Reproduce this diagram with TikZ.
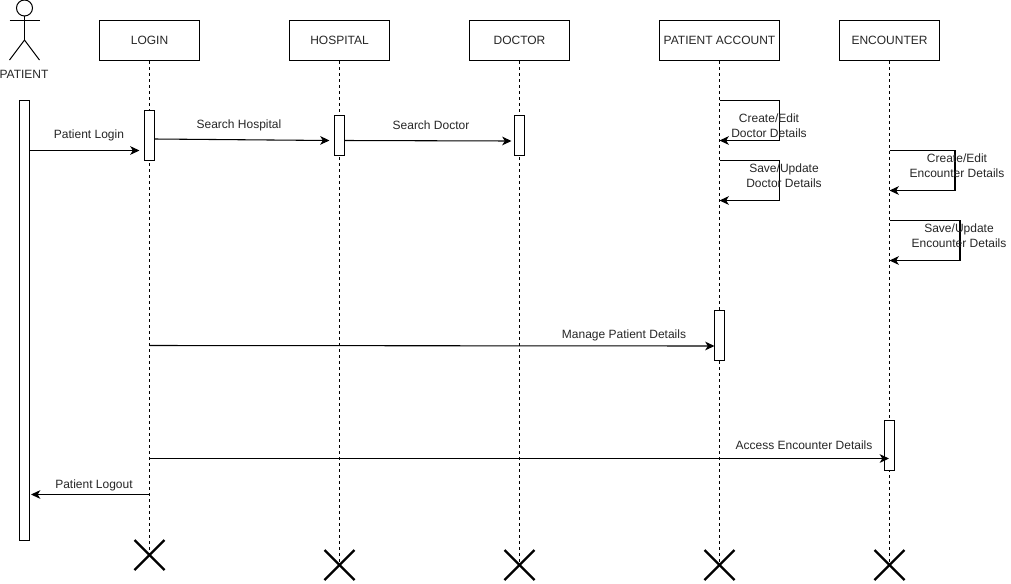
\documentclass[tikz,border=0pt]{standalone}
\usepackage{fontspec}
\setmainfont{Liberation Sans}
\usetikzlibrary{arrows.meta}
\tikzset{
  px/.style={x=0.75pt,y=-0.75pt},
  headbox/.style={draw=black,fill=white,line width=0.75pt,minimum height=30pt,inner sep=0pt,text=black!85},
  bar/.style={draw=black,fill=white,line width=0.75pt,minimum width=7.5pt,inner sep=0pt},
  life/.style={draw=black,line width=0.75pt,dash pattern=on 2.25pt off 2.25pt},
  msg/.style={draw=black,line width=0.8pt,-{Stealth[length=7pt,width=6.5pt,inset=2pt]}},
  lbl/.style={inner sep=0pt,align=center,text=black!85,font=\fontsize{9}{11.25}\selectfont},
  killx/.style={draw=black,line width=1.7pt},
  actor/.style={draw=black,line width=0.75pt}
}
\begin{document}
\begin{tikzpicture}[px,every node/.append style={font=\fontsize{9}{11.25}\selectfont}]
\useasboundingbox (0,0) rectangle (1011,583);
% header boxes
\node[headbox,minimum width=75pt] (login) at (149.5,40.5) {LOGIN};
\node[headbox,minimum width=75pt] (hospital) at (339.5,40.5) {HOSPITAL};
\node[headbox,minimum width=75pt] (doctor) at (519.5,40.5) {DOCTOR};
\node[headbox,minimum width=90pt] (account) at (719.5,40.5) {PATIENT ACCOUNT};
\node[headbox,minimum width=75pt] (encounter) at (889.5,40.5) {ENCOUNTER};
% destruction marks
\coordinate (xlogin) at (149.5,555);
\coordinate (xhospital) at (339.5,565);
\coordinate (xdoctor) at (519.5,565);
\coordinate (xaccount) at (719.5,565);
\coordinate (xencounter) at (889.5,565);
% lifelines
\draw[life] (login.south) -- (xlogin);
\draw[life] (hospital.south) -- (xhospital);
\draw[life] (doctor.south) -- (xdoctor);
\draw[life] (account.south) -- (xaccount);
\draw[life] (encounter.south) -- (xencounter);
\foreach \c in {xlogin,xhospital,xdoctor,xaccount,xencounter}{
  \draw[killx] ([shift={(-15,-15)}]\c) -- ([shift={(15,15)}]\c);
  \draw[killx] ([shift={(-15,15)}]\c) -- ([shift={(15,-15)}]\c);
}
% actor
\coordinate (neck) at (24.5,16);
\coordinate (hip) at (24.5,40);
\draw[actor] (24.5,8) circle[radius=8];
\draw[actor] (neck) -- (hip);
\draw[actor] (9.5,20) -- (39.5,20);
\draw[actor] (9.5,60) -- (hip) -- (39.5,60);
\node[lbl] (patient) at (24,74) {PATIENT};
% activation bars
\node[bar,minimum height=330pt] (patbar) at (24.5,320.5) {};
\node[bar,minimum height=37.5pt] (loginbar) at (149.5,135.5) {};
\node[bar,minimum height=30pt] (hospbar) at (339.5,135.5) {};
\node[bar,minimum height=30pt] (docbar) at (519.5,135.5) {};
\node[bar,minimum height=37.5pt] (accbar) at (719.5,335.5) {};
\node[bar,minimum height=37.5pt] (encbar) at (889.5,445.5) {};
% messages
\coordinate (m1e) at (139.5,150.5);
\draw[msg] (patbar.east |- m1e) -- (m1e);
\coordinate (m2s) at (155,139);
\coordinate (m2e) at (329.5,140.5);
\draw[msg] (m2s) -- (m2e);
\coordinate (m3s) at (345,140.5);
\coordinate (m3e) at (511.5,141);
\draw[msg] (m3s) -- (m3e);
\coordinate (m4s) at (149.5,345.5);
\coordinate (m4e) at (714.5,346);
\draw[msg] (m4s) -- (m4e);
\coordinate (m5s) at (149.5,458.5);
\coordinate (m5e) at (889,458.5);
\draw[msg] (m5s) -- (m5e);
\coordinate (m6s) at (149.5,494.5);
\coordinate (m6e) at (31,494.5);
\draw[msg] (m6s) -- (m6e);
% self messages
\coordinate (s1) at (719.5,100.5);
\coordinate (s1e) at (719.5,140.5);
\draw[msg] (s1) -- (779.5,100.5) -- (779.5,140.5) -- (s1e);
\coordinate (s2) at (719.5,160.5);
\coordinate (s2e) at (719.5,200.5);
\draw[msg] (s2) -- (779.5,160.5) -- (779.5,200.5) -- (s2e);
\coordinate (s3) at (889.5,150.5);
\coordinate (s3e) at (889.5,190.5);
\draw[msg] (s3) -- (955,150.5) -- (955,190.5) -- (s3e);
\coordinate (s4) at (889.5,220.5);
\coordinate (s4e) at (889.5,260.5);
\draw[msg] (s4) -- (960,220.5) -- (960,260.5) -- (s4e);
% labels
\node[lbl] (l1) at (89,135.5) {Patient Login};
\node[lbl] (l2) at (239,125.5) {Search Hospital};
\node[lbl] (l3) at (431,125.5) {Search Doctor};
\node[lbl] (l4) at (624,335.5) {Manage Patient Details};
\node[lbl] (l5) at (804,445.5) {Access Encounter Details};
\node[lbl] (l6) at (94,485.5) {Patient Logout};
\node[lbl] (l7) at (769,126) {Create/Edit\\Doctor Details};
\node[lbl] (l8) at (784,176) {Save/Update\\Doctor Details};
\node[lbl] (l9) at (957,166) {Create/Edit\\Encounter Details};
\node[lbl] (l10) at (959,236) {Save/Update\\Encounter Details};
\end{tikzpicture}
\end{document}
